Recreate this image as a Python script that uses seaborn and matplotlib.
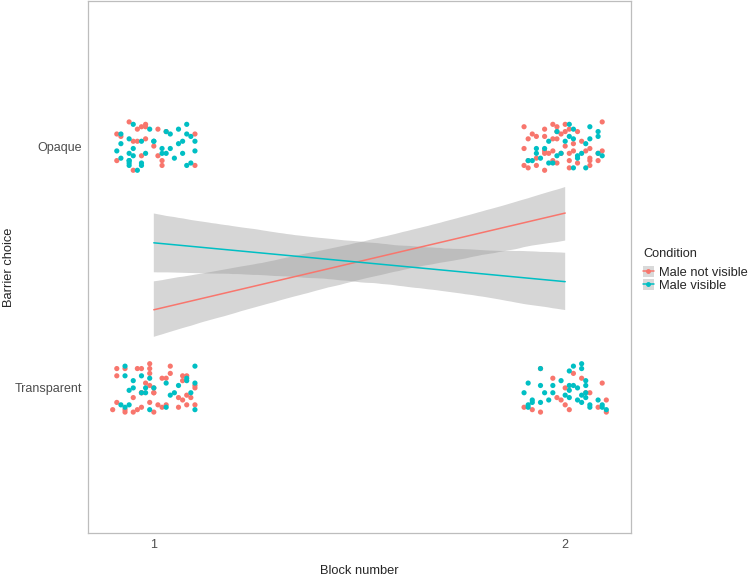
import seaborn as sns
import matplotlib.pyplot as plt
import pandas as pd
from matplotlib.lines import Line2D
from matplotlib.patches import Patch

sns.set_style("white")
plt.rcParams["font.family"] = ["Liberation Sans", "DejaVu Sans"]

conditions = ["Male not visible", "Male visible"]
colors = {"Male not visible": "#F8766D", "Male visible": "#00BFC4"}
choice_labels = ["Transparent", "Opaque"]

# jitter offsets (x in block units, y in choice units)
red_b1_opq_dx = [-0.06, -0.02, -0.03, -0.04, -0.09, -0.08, -0.02, -0.05, -0.04, 0.01,
                 0.03, 0.10, 0.00, -0.09, 0.01, 0.02, 0.02, -0.05, 0.10, -0.02, -0.03]
red_b1_opq_dy = [0.10, 0.09, 0.08, 0.07, 0.05, 0.04, 0.03, 0.02, 0.02, 0.07,
                 0.06, 0.05, 0.00, -0.06, -0.04, -0.06, -0.08, -0.10, -0.08, 0.08, -0.04]
red_b1_trn_dx = [-0.09, -0.07, -0.04, -0.03, -0.01, -0.01, -0.01, -0.09, 0.04, 0.04,
                 0.02, 0.03, -0.02, -0.01, -0.03, -0.03, -0.05, 0.00, 0.00, 0.00,
                 -0.01, 0.01, 0.02, 0.03, -0.03, -0.04, -0.09, -0.10, -0.07, -0.07,
                 -0.05, 0.00, 0.06, 0.06, 0.07, 0.07, 0.08, 0.07, 0.08, 0.10,
                 0.10, 0.09, 0.10, 0.08]
red_b1_trn_dy = [0.08, 0.08, 0.08, 0.08, 0.10, 0.08, 0.06, 0.05, 0.09, 0.06,
                 0.04, 0.04, 0.02, 0.01, -0.02, -0.02, -0.04, -0.02, -0.02, 0.00,
                 -0.06, -0.07, -0.08, -0.07, -0.08, -0.09, -0.06, -0.09, -0.09, -0.10,
                 -0.10, -0.10, -0.08, -0.04, -0.05, 0.05, 0.05, 0.03, -0.03, 0.01,
                 0.00, -0.04, -0.07, -0.07]
red_b2_opq_dx = [-0.10, -0.05, -0.03, -0.02, 0.00, -0.02, -0.01, 0.00, 0.01, 0.03,
                 0.09, -0.08, -0.09, -0.07, -0.05, -0.03, -0.02, 0.02, 0.04, 0.06,
                 0.05, 0.08, 0.09, -0.10, -0.05, -0.05, -0.04, -0.03, 0.00, -0.01,
                 0.01, 0.02, -0.10, -0.09, -0.07, -0.07, -0.03, -0.02, 0.01, 0.01,
                 0.06, 0.06, 0.06, -0.09, -0.05, 0.08, 0.03]
red_b2_opq_dy = [0.08, 0.07, 0.09, 0.08, 0.09, 0.06, 0.05, 0.06, 0.07, 0.06,
                 0.10, 0.05, 0.03, 0.04, 0.04, 0.03, 0.03, 0.01, 0.02, -0.01,
                 -0.02, -0.03, -0.02, -0.01, -0.03, -0.02, -0.03, -0.02, 0.00, -0.03,
                 -0.03, -0.02, -0.08, -0.06, -0.05, -0.08, -0.06, -0.07, -0.06, -0.09,
                 -0.05, -0.06, -0.08, -0.09, -0.10, -0.06, -0.07]
red_b2_trn_dx = [-0.06, -0.03, 0.04, 0.00, 0.05, 0.06, 0.09, -0.02, -0.01, -0.10,
                 -0.08, -0.06, 0.00, 0.01, 0.08, 0.10, 0.10, 0.02]
red_b2_trn_dy = [0.08, 0.04, 0.04, 0.00, -0.02, -0.02, 0.02, -0.04, -0.05, -0.08,
                 -0.09, -0.10, -0.07, -0.09, -0.08, -0.05, -0.10, 0.06]

teal_b1_opq_dx = [-0.05, -0.08, -0.06, -0.03, 0.00, 0.00, 0.03, 0.04, 0.06, 0.08,
                  0.08, 0.09, 0.07, 0.10, -0.05, -0.09, -0.06, -0.02, 0.02, 0.02,
                  0.03, 0.04, -0.08, -0.05, -0.06, -0.06, 0.05, -0.06, -0.03, -0.03,
                  -0.04, 0.10, 0.09, 0.08, -0.06, 0.06, -0.01, -0.08, 0.07]
teal_b1_opq_dy = [0.09, 0.05, 0.03, 0.02, 0.02, 0.02, 0.06, 0.05, 0.07, 0.09,
                  0.05, 0.04, 0.02, 0.02, -0.01, -0.02, -0.03, -0.03, -0.01, -0.03,
                  -0.03, -0.01, -0.05, -0.04, -0.06, -0.06, -0.05, -0.08, -0.08, -0.07,
                  -0.10, -0.02, -0.07, -0.08, -0.07, 0.01, 0.07, 0.01, -0.03]
teal_b1_trn_dx = [-0.07, -0.07, -0.05, -0.05, -0.06, -0.03, -0.02, -0.01, 0.00, 0.03,
                  0.05, 0.04, 0.03, -0.01, -0.06, -0.08, -0.07, 0.08, 0.08, 0.10,
                  0.09, 0.10, 0.10, -0.02, -0.03, 0.06]
teal_b1_trn_dy = [0.09, 0.05, 0.03, 0.00, -0.01, -0.02, -0.02, 0.04, 0.00, 0.02,
                  -0.02, -0.03, -0.08, -0.09, -0.07, -0.07, -0.08, 0.04, 0.03, 0.02,
                  -0.02, 0.09, -0.09, 0.00, 0.05, 0.01]
teal_b2_opq_dx = [0.01, 0.02, 0.06, 0.08, 0.08, 0.06, -0.02, 0.01, 0.02, -0.04,
                  0.00, -0.07, -0.05, -0.07, -0.08, -0.09, -0.06, -0.03, -0.02, -0.01,
                  0.04, 0.03, 0.03, 0.09, 0.08, 0.05, 0.02, 0.05, -0.04]
teal_b2_opq_dy = [0.09, 0.07, 0.08, 0.06, 0.04, 0.03, 0.06, 0.04, 0.03, 0.02,
                  0.02, -0.01, -0.01, -0.03, -0.06, -0.06, -0.05, -0.07, -0.04, -0.03,
                  -0.03, -0.04, -0.05, -0.04, -0.03, -0.09, -0.09, 0.01, -0.07]
teal_b2_trn_dx = [-0.06, 0.04, 0.02, 0.01, 0.04, -0.09, -0.06, -0.03, -0.01, 0.01,
                  0.02, 0.03, 0.05, 0.05, 0.01, 0.00, 0.01, 0.04, 0.05, -0.10,
                  -0.05, -0.08, -0.08, -0.06, -0.04, 0.03, 0.04, 0.05, -0.09, -0.09,
                  0.06, 0.06, 0.09, 0.09, 0.10, 0.08, -0.03]
teal_b2_trn_dy = [0.08, 0.10, 0.09, 0.07, 0.08, 0.02, 0.01, 0.01, 0.03, 0.01,
                  0.01, 0.00, 0.03, 0.01, -0.01, -0.03, -0.04, -0.03, -0.02, -0.02,
                  -0.02, -0.05, -0.06, -0.06, -0.05, -0.05, -0.06, -0.04, -0.07, -0.08,
                  -0.07, -0.08, -0.07, -0.08, -0.09, -0.05, -0.02]

# (condition, block, choice: 1 = Opaque, 0 = Transparent, jitter x, jitter y)
groups = [
    ("Male not visible", 1, 1, red_b1_opq_dx, red_b1_opq_dy),
    ("Male not visible", 1, 0, red_b1_trn_dx, red_b1_trn_dy),
    ("Male not visible", 2, 1, red_b2_opq_dx, red_b2_opq_dy),
    ("Male not visible", 2, 0, red_b2_trn_dx, red_b2_trn_dy),
    ("Male visible", 1, 1, teal_b1_opq_dx, teal_b1_opq_dy),
    ("Male visible", 1, 0, teal_b1_trn_dx, teal_b1_trn_dy),
    ("Male visible", 2, 1, teal_b2_opq_dx, teal_b2_opq_dy),
    ("Male visible", 2, 0, teal_b2_trn_dx, teal_b2_trn_dy),
]

rows = []
for cond, block, choice, dxs, dys in groups:
    for dx, dy in zip(dxs, dys):
        rows.append({"condition": cond, "block": block, "choice": choice,
                     "xj": block + dx, "yj": choice + dy})
df = pd.DataFrame(rows)

fig = plt.figure(figsize=(7.5, 5.76), dpi=100)
ax = fig.add_axes([88 / 750, 1 - 533 / 576, 543 / 750, 532 / 576])

sns.scatterplot(data=df, x="xj", y="yj", hue="condition", palette=colors,
                hue_order=conditions, s=14, linewidth=0, legend=False, ax=ax)

for cond in conditions:
    sub = df[df["condition"] == cond]
    sns.regplot(data=sub, x="block", y="choice", scatter=False, ci=95,
                n_boot=2000, seed=7, truncate=True, color=colors[cond],
                line_kws={"lw": 1.1}, ax=ax)
    band = ax.collections[-1]
    band.set_facecolor("#999999")
    band.set_edgecolor("none")
    band.set_alpha(0.4)

ax.set_xlim(0.84, 2.16)
ax.set_ylim(-0.6, 1.6)
ax.set_xticks([1, 2])
ax.set_yticks([0, 1])
ax.set_yticklabels(choice_labels)
ax.tick_params(axis="both", length=2.5, width=0.6, color="#4d4d4d",
               labelsize=9, labelcolor="#4d4d4d", pad=2)
for sp in ax.spines.values():
    sp.set_color("#bdbdbd")
    sp.set_linewidth(0.9)

ax.set_xlabel("Block number", fontsize=9.3)
ax.set_ylabel("Barrier choice", fontsize=9.3)
ax.xaxis.set_label_coords(0.5, -0.061)
ax.yaxis.set_label_coords(-0.134, 0.5)

handles = [(Patch(facecolor="#d9d9d9", edgecolor="none"),
            Line2D([], [], color=colors[c], lw=1.1, marker="o", markersize=2.5))
           for c in conditions]
leg = ax.legend(handles, conditions, title="Condition", loc="upper left",
                bbox_to_anchor=(643 / 750, 1 - 248 / 576),
                bbox_transform=fig.transFigure, frameon=False,
                fontsize=9.3, title_fontsize=9.2, handlelength=0.85,
                handleheight=0.9, handletextpad=0.4, labelspacing=0.0,
                borderpad=0, borderaxespad=0, alignment="left")
leg._legend_box.sep = 4.5

plt.savefig("out.png", dpi=100)
plt.close()
